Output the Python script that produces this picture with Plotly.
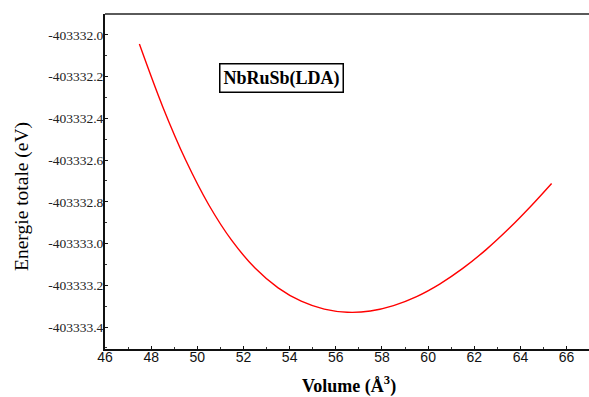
import plotly.graph_objects as go

# Total energy versus cell volume for NbRuSb (LDA)
volume = [47.49, 48.5, 49.5, 50.5, 51.5, 52.5, 53.5, 54.5, 55.5, 56.5,
          57.5, 58.5, 59.5, 60.5, 61.5, 62.5, 63.5, 64.5, 65.35]
energy = [-403332.044, -403332.344, -403332.601, -403332.815, -403332.986,
          -403333.117, -403333.212, -403333.276, -403333.314, -403333.329,
          -403333.323, -403333.297, -403333.254, -403333.194, -403333.119,
          -403333.030, -403332.928, -403332.815, -403332.712]

x_ticks = [46, 48, 50, 52, 54, 56, 58, 60, 62, 64, 66]
y_ticks = [-403332.0, -403332.2, -403332.4, -403332.6, -403332.8,
           -403333.0, -403333.2, -403333.4]

serif = "Liberation Serif, Times New Roman, serif"
sans = "Liberation Sans, Arial, sans-serif"

fig = go.Figure()
fig.add_trace(go.Scatter(
    x=volume, y=energy, mode="lines",
    line=dict(color="#ff0000", width=1.4, shape="spline", smoothing=1.0),
    showlegend=False, hoverinfo="skip",
))

fig.update_layout(
    width=589, height=397,
    margin=dict(l=105, r=0, t=14, b=48),
    paper_bgcolor="white", plot_bgcolor="white",
    xaxis=dict(
        range=[46, 66.97], tickvals=x_ticks, ticktext=[str(v) for v in x_ticks],
        showgrid=False, zeroline=False,
        showline=True, linecolor="#111", linewidth=2,
        ticks="inside", ticklen=3, tickcolor="#111",
        minor=dict(ticks="inside", ticklen=2, dtick=1, tickcolor="#333"),
        tickfont=dict(family=sans, size=14, color="#111"),
        ticklabelstandoff=-6,
    ),
    yaxis=dict(
        range=[-403333.505, -403331.9], tickvals=y_ticks,
        ticktext=[f"{v:.1f}" for v in y_ticks],
        showgrid=False, zeroline=False,
        showline=True, linecolor="#111", linewidth=2,
        ticks="inside", ticklen=3, tickcolor="#111",
        minor=dict(ticks="inside", ticklen=2, dtick=0.1, tickcolor="#333"),
        tickfont=dict(family=serif, size=13.5, color="#222"),
        ticklabelstandoff=-3,
    ),
    shapes=[dict(type="line", xref="paper", yref="paper",
                 x0=0, x1=1, y0=1, y1=1,
                 line=dict(color="#5a5a5a", width=2))],
    annotations=[
        dict(text="<b>NbRuSb(LDA)</b>", xref="paper", yref="paper",
             x=0.3647, y=0.809, xanchor="center", yanchor="middle",
             showarrow=False, font=dict(family=serif, size=18, color="black"),
             bordercolor="black", borderwidth=1.5, borderpad=3, bgcolor="white"),
        dict(text="<b>Volume (Å<sup>3</sup>)</b>", xref="paper", yref="paper",
             x=(349 - 105) / 484, y=-(385 - 349) / 335,
             xanchor="center", yanchor="middle", showarrow=False,
             font=dict(family=serif, size=18, color="black")),
        dict(text="Energie totale (eV)", xref="paper", yref="paper",
             x=-(105 - 22) / 484, y=(349 - 197) / 335,
             xanchor="center", yanchor="middle", showarrow=False, textangle=-90,
             font=dict(family=serif, size=19.5, color="black")),
    ],
)

fig.write_html("out.html")
